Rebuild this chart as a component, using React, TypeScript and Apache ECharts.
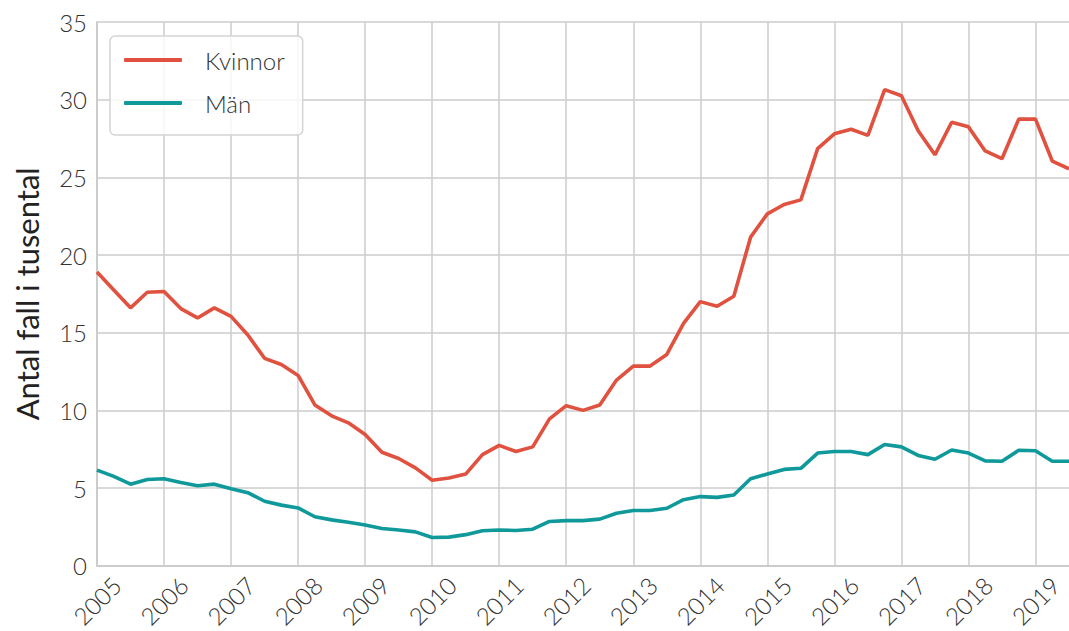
import React, { useEffect, useRef } from "react";
import * as echarts from "echarts";

const years = [2005, 2006, 2007, 2008, 2009, 2010, 2011, 2012, 2013, 2014, 2015, 2016, 2017, 2018, 2019];
const quarterNames = ["K1", "K2", "K3", "K4"];
const lastQuarterCount = 3;

const kvinnor = [
  18.9, 17.75, 16.6, 17.6,
  17.65, 16.55, 15.95, 16.6,
  16.05, 14.85, 13.35, 12.95,
  12.25, 10.35, 9.65, 9.2,
  8.45, 7.3, 6.9, 6.3,
  5.5, 5.65, 5.9, 7.15,
  7.75, 7.35, 7.65, 9.45,
  10.3, 10.0, 10.35, 11.95,
  12.85, 12.85, 13.6, 15.6,
  17.0, 16.7, 17.35, 21.15,
  22.65, 23.25, 23.55, 26.85,
  27.8, 28.1, 27.7, 30.65,
  30.25, 28.0, 26.45, 28.55,
  28.25, 26.7, 26.2, 28.75,
  28.75, 26.05, 25.55,
];

const man = [
  6.15, 5.75, 5.25, 5.55,
  5.6, 5.35, 5.15, 5.25,
  4.95, 4.7, 4.15, 3.9,
  3.72, 3.15, 2.95, 2.8,
  2.62, 2.4, 2.3, 2.18,
  1.82, 1.84, 2.0, 2.25,
  2.3, 2.27, 2.35, 2.85,
  2.9, 2.9, 3.0, 3.38,
  3.55, 3.55, 3.7, 4.25,
  4.45, 4.4, 4.55, 5.6,
  5.9, 6.2, 6.27, 7.25,
  7.35, 7.35, 7.15, 7.8,
  7.65, 7.1, 6.85, 7.45,
  7.25, 6.75, 6.72, 7.43,
  7.4, 6.72, 6.72,
];

const categories: string[] = [];
years.forEach((y, yi) => {
  const n = yi === years.length - 1 ? lastQuarterCount : 4;
  for (let q = 0; q < n; q++) categories.push(`${y} ${quarterNames[q]}`);
});

const RED = "#E0523F";
const TEAL = "#0F999B";
const FONT = "Lato";

export default function App() {
  const ref = useRef<HTMLDivElement>(null);
  useEffect(() => {
    document.body.style.margin = "0";
    if (!ref.current) return;
    const chart = echarts.init(ref.current, undefined, { renderer: "svg" });
    chart.setOption({
      animation: false,
      backgroundColor: "#ffffff",
      textStyle: { fontFamily: FONT },
      grid: { left: 97, right: 0, top: 22, bottom: 64, containLabel: false },
      legend: {
        orient: "vertical",
        left: 110,
        top: 36,
        padding: [12, 18, 20, 14],
        itemGap: 19,
        itemWidth: 58,
        itemHeight: 4,
        icon: "roundRect",
        borderColor: "#d4d4d4",
        borderWidth: 1.5,
        borderRadius: 5,
        backgroundColor: "rgba(255,255,255,0.8)",
        textStyle: {
          fontFamily: FONT,
          fontWeight: 300,
          fontSize: 24,
          color: "#333",
          padding: [0, 0, 0, 18],
          lineHeight: 24,
        },
        data: ["Kvinnor", "Män"],
      },
      xAxis: {
        type: "category",
        data: categories,
        boundaryGap: false,
        axisLine: { show: true, lineStyle: { color: "#cccccc", width: 2 } },
        axisTick: { show: false },
        splitLine: {
          show: true,
          interval: 3,
          lineStyle: { color: "#cccccc", width: 1.5 },
        },
        axisLabel: {
          interval: 3,
          rotate: 45,
          align: "center",
          verticalAlign: "middle",
          margin: 35,
          fontFamily: FONT,
          fontWeight: 300,
          fontSize: 24,
          color: "#333",
          formatter: (v: string) => v.split(" ")[0],
        },
      },
      yAxis: {
        type: "value",
        min: 0,
        max: 35,
        interval: 5,
        name: "Antal fall i tusental",
        nameLocation: "middle",
        nameGap: 55,
        nameTextStyle: { fontFamily: FONT, fontSize: 31, color: "#222", fontWeight: 400 },
        axisLine: { show: true, lineStyle: { color: "#cccccc", width: 2 } },
        axisTick: { show: false },
        splitLine: { show: true, lineStyle: { color: "#cccccc", width: 1.5 } },
        axisLabel: {
          margin: 10,
          fontFamily: FONT,
          fontWeight: 300,
          fontSize: 24,
          color: "#333",
        },
      },
      series: [
        {
          name: "Kvinnor",
          type: "line",
          data: kvinnor,
          symbol: "none",
          lineStyle: { color: RED, width: 3.6 },
          itemStyle: { color: RED },
        },
        {
          name: "Män",
          type: "line",
          data: man,
          symbol: "none",
          lineStyle: { color: TEAL, width: 3.6 },
          itemStyle: { color: TEAL },
        },
      ],
    });
    return () => chart.dispose();
  }, []);
  return <div ref={ref} style={{ width: 1069, height: 631 }} />;
}
